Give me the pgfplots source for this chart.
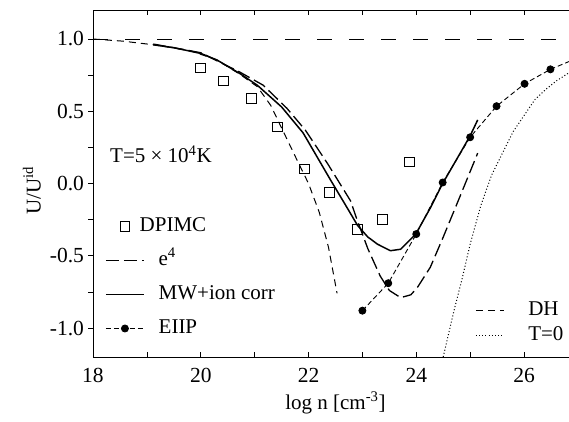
\documentclass[border=0pt]{standalone}
\usepackage{fontspec}
\setmainfont{Liberation Serif}
\usepackage{pgfplots}
\pgfplotsset{compat=1.18}

\pgfplotsset{
  common/.style={
    at={(0,0)}, anchor=south west,
    scale only axis, width=484.9pt, height=346.8pt,
    xmin=18, xmax=27, ymin=-1.2, ymax=1.2,
    clip=true,
  }
}

\begin{document}
\begin{tikzpicture}[font=\fontsize{21}{25}\selectfont]
\begin{axis}[
  common,
  axis line style={line width=0.8pt},
  xtick={18,20,22,24,26}, ytick={-1,-0.5,0,0.5,1},
  minor x tick num=1, minor y tick num=1,
  xtick align=inside, ytick align=outside,
  xtick pos=both, ytick pos=left,
  major tick length=4.5pt, minor tick length=4.5pt,
  tick style={line width=0.7pt, black},
  tick label style={font=\fontsize{21.5}{25}\selectfont},
  /pgf/number format/assume math mode=true,
  yticklabel style={/pgf/number format/fixed, /pgf/number format/fixed zerofill, /pgf/number format/precision=1, xshift=-1pt},
  xticklabel style={yshift=-8pt},
  xlabel={log n [cm\textsuperscript{-3}]},
  ylabel={U/U\textsuperscript{id}},
  xlabel style={at={(axis description cs:0.5,-0.132)}, anchor=center},
  ylabel style={at={(axis description cs:-0.126,0.48)}, anchor=center},
  legend image code/.code={\draw[mark repeat=2,mark phase=2,#1] plot coordinates {(0pt,0pt) (19pt,0pt) (38pt,0pt)};},
  legend cell align=left,
  legend style={at={(rel axis cs:0.0247,0.404)}, anchor=north west, draw=none, fill=none,
    inner sep=0pt, row sep=15pt, column sep=14pt,
    nodes={inner sep=0pt, text height=14.5pt, text depth=4.5pt}},
]
% ideal line
\addplot[forget plot, black, line width=0.9pt, dash pattern=on 15pt off 17pt] coordinates {(18,1) (27,1)};

% DPIMC
\addplot[only marks, mark=square, mark size=4.8pt, mark options={line width=0.9pt, fill=white}, black]
coordinates {(19.99,0.80) (20.42,0.71) (20.94,0.59) (21.42,0.39) (21.92,0.10) (22.39,-0.06) (22.91,-0.32) (23.37,-0.25) (23.87,0.15)};
\addlegendentry{\hspace{-19pt}DPIMC}

% e^4
\addplot[black, line width=1.3pt, dash pattern=on 13pt off 5pt]
coordinates {(19.12,0.965) (20.0,0.905) (20.73,0.77) (21.16,0.68) (21.6,0.52) (21.94,0.37) (22.35,0.14) (22.78,-0.12) (22.9,-0.25) (23.1,-0.45) (23.33,-0.64) (23.5,-0.74) (23.71,-0.79) (23.9,-0.77) (24.02,-0.72) (24.26,-0.58) (24.49,-0.38) (24.8,-0.10) (25.14,0.21)};
\addlegendentry{e\textsuperscript{4}}

% MW + ion corr
\addplot[black, line width=1.5pt]
coordinates {(19.12,0.96) (19.5,0.94) (20.0,0.90) (20.3,0.855) (20.73,0.76) (21.05,0.68) (21.5,0.53) (21.9,0.35) (22.4,0.03) (22.72,-0.17) (22.91,-0.29) (23.1,-0.37) (23.28,-0.42) (23.52,-0.465) (23.71,-0.455) (23.99,-0.35) (24.26,-0.17) (24.49,0.0) (24.8,0.20) (25.0,0.33) (25.14,0.44)};
\addlegendentry{MW+ion corr}

% EIIP
\addplot[black, line width=0.9pt, dash pattern=on 5pt off 3pt, mark=*, mark size=3.5pt, mark options={solid}]
coordinates {(23,-0.88) (23.48,-0.69) (24,-0.35) (24.49,0.007) (25,0.32) (25.49,0.535) (26.01,0.69) (26.49,0.79)};
\addlegendentry{EIIP}
\addplot[forget plot, black, line width=0.9pt, dash pattern=on 5pt off 3pt] coordinates {(26.49,0.79) (27,0.87)};

\node[anchor=base west, inner sep=0pt] at (axis cs:18.316,0.142) {T=5 × 10\textsuperscript{4}K};
\end{axis}

\begin{axis}[
  common, hide axis,
  legend image code/.code={\draw[#1] (0pt,0pt) -- (28pt,0pt);},
  legend cell align=left,
  legend style={at={(rel axis cs:0.788,0.1626)}, anchor=north west, draw=none, fill=none,
    inner sep=0pt, row sep=6pt, column sep=24pt,
    nodes={inner sep=0pt, text height=14.5pt, text depth=4.5pt}},
]
\addplot[black, line width=1pt, dash pattern=on 7pt off 5pt]
coordinates {(18,1.0) (18.56,0.985) (19.12,0.96) (19.8,0.92) (20.3,0.855) (20.73,0.755) (21.05,0.67) (21.3,0.54) (21.48,0.40) (21.79,0.16) (22.0,0.0) (22.2,-0.2) (22.37,-0.44) (22.53,-0.76)};
\addlegendentry{DH}
\addplot[black, line width=1pt, dash pattern=on 1pt off 2.2pt]
coordinates {(24.5,-1.2) (24.7,-0.88) (24.85,-0.66) (25.0,-0.42) (25.2,-0.15) (25.4,0.06) (25.6,0.21) (25.8,0.36) (26.0,0.47) (26.2,0.58) (26.4,0.65) (26.6,0.71) (26.85,0.77) (27,0.80)};
\addlegendentry{T=0}
\end{axis}
\pgfresetboundingbox
\useasboundingbox (-93pt,-64.1pt) rectangle (476pt,356.9pt);
\end{tikzpicture}
\end{document}
